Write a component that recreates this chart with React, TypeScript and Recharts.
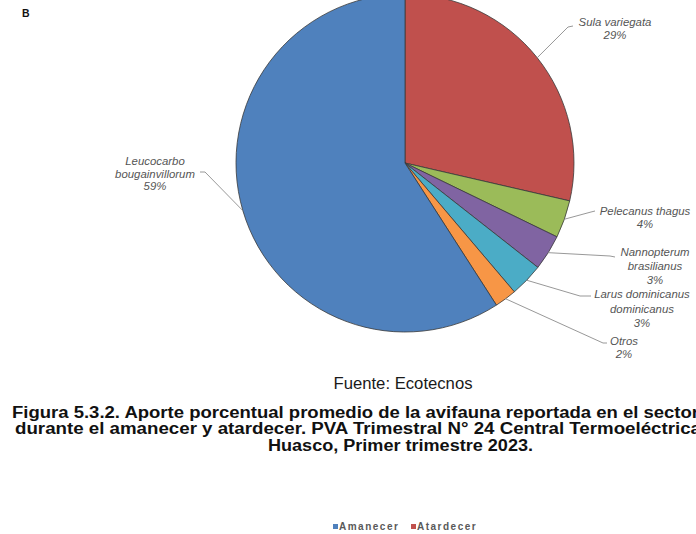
import React from 'react';
import { PieChart, Pie, Cell } from 'recharts';

const SPECIES = [
  'Sula variegata',
  'Pelecanus thagus',
  'Nannopterum brasilianus',
  'Larus dominicanus dominicanus',
  'Otros',
  'Leucocarbo bougainvillorum',
];
const SHARES = [28.6, 3.6, 3.4, 3.2, 2.1, 59.1];
const COLORS = ['#C0504D', '#9BBB59', '#8064A2', '#4BACC6', '#F79646', '#4F81BD'];
const LABEL_LINES = [
  ['Sula variegata'],
  ['Pelecanus thagus'],
  ['Nannopterum', 'brasilianus'],
  ['Larus dominicanus', 'dominicanus'],
  ['Otros'],
  ['Leucocarbo', 'bougainvillorum'],
];
const LEGEND_NAMES = ['Amanecer', 'Atardecer'];
const LEGEND_COLORS = ['#4F81BD', '#C0504D'];
const SOURCE = 'Fuente: Ecotecnos';
const CAPTION = [
  'Figura 5.3.2. Aporte porcentual promedio de la avifauna reportada en el sector',
  'durante el amanecer y atardecer. PVA Trimestral N° 24 Central Termoeléctrica',
  'Huasco, Primer trimestre 2023.',
];

const data = SPECIES.map((name, i) => ({ name, value: SHARES[i] }));

// label layout relative to the pie centre
const LABEL_LAYOUT = [
  { elbow: [163, -136], end: [168, -137], tx: 210, ty: -137, lh: 13 },
  { elbow: [186, 49], end: [190, 48], tx: 240, ty: 52, lh: 13 },
  { elbow: [205, 93], end: [210, 94], tx: 250, ty: 93, lh: 14 },
  { elbow: [175, 133], end: [186, 133], tx: 237, ty: 135, lh: 14.5 },
  { elbow: [198, 180], end: [202, 180], tx: 219, ty: 182, lh: 13 },
  { elbow: [-200, 9], end: [-205, 9], tx: -250, ty: 2, lh: 12.5 },
];

const RAD = Math.PI / 180;
const FONT = '"Liberation Sans", Arial, sans-serif';

function SliceLabel(props: any) {
  const { cx, cy, midAngle, outerRadius, index, percent } = props;
  const sx = cx + outerRadius * Math.cos(-midAngle * RAD);
  const sy = cy + outerRadius * Math.sin(-midAngle * RAD);
  const lay = LABEL_LAYOUT[index];
  const pts = `${sx},${sy} ${cx + lay.elbow[0]},${cy + lay.elbow[1]} ${cx + lay.end[0]},${cy + lay.end[1]}`;
  const lines = [...LABEL_LINES[index], `${Math.round(percent * 100)}%`];
  return (
    <g>
      <polyline points={pts} fill="none" stroke="#8c8c8c" strokeWidth={0.9} />
      <text
        x={cx + lay.tx}
        y={cy + lay.ty}
        textAnchor="middle"
        fontStyle="italic"
        fontSize={11.4}
        fill="#555555"
        fontFamily={FONT}
      >
        {lines.map((l, i) => (
          <tspan key={i} x={cx + lay.tx} dy={i === 0 ? 0 : lay.lh}>
            {l}
          </tspan>
        ))}
      </text>
    </g>
  );
}

export default function App() {
  return (
    <div style={{ position: 'absolute', left: 0, top: 0, width: 696, height: 534, background: '#fff', overflow: 'hidden' }}>
      <style>{'body{margin:0;background:#fff}'}</style>
      <PieChart
        width={696}
        height={534}
        margin={{ top: 0, right: 0, bottom: 0, left: 0 }}
        style={{ position: 'absolute', left: 0, top: 0 }}
      >
        <Pie
          data={data}
          dataKey="value"
          nameKey="name"
          cx={405}
          cy={163}
          outerRadius={169}
          startAngle={90}
          endAngle={-270}
          stroke="#3a3a3a"
          strokeWidth={0.8}
          label={SliceLabel}
          labelLine={false}
          isAnimationActive={false}
        >
          {data.map((d, i) => (
            <Cell key={d.name} fill={COLORS[i]} />
          ))}
        </Pie>
      </PieChart>
      <svg width={696} height={534} style={{ position: 'absolute', left: 0, top: 0, pointerEvents: 'none' }}>
        <text x={22} y={17} fontSize={10.5} fontWeight="bold" fontFamily={FONT} fill="#111">B</text>
        <text x={403} y={389} fontSize={16} textAnchor="middle" fontFamily={FONT} fill="#1a1a1a" textLength={139} lengthAdjust="spacingAndGlyphs">
          {SOURCE}
        </text>
        <text x={12} y={418} fontSize={16} fontWeight="bold" fontFamily={FONT} fill="#111" textLength={687} lengthAdjust="spacingAndGlyphs">
          {CAPTION[0]}
        </text>
        <text x={15} y={434} fontSize={16} fontWeight="bold" fontFamily={FONT} fill="#111" textLength={686} lengthAdjust="spacingAndGlyphs">
          {CAPTION[1]}
        </text>
        <text x={268} y={451} fontSize={16} fontWeight="bold" fontFamily={FONT} fill="#111" textLength={265} lengthAdjust="spacingAndGlyphs">
          {CAPTION[2]}
        </text>
        {LEGEND_NAMES.map((n, i) => (
          <g key={n}>
            <rect x={i === 0 ? 333 : 411} y={524} width={5} height={5} fill={LEGEND_COLORS[i]} />
            <text x={i === 0 ? 339 : 417} y={530} fontSize={10} fontWeight="bold" letterSpacing={1.5} fontFamily={FONT} fill="#595959">
              {n}
            </text>
          </g>
        ))}
      </svg>
    </div>
  );
}
